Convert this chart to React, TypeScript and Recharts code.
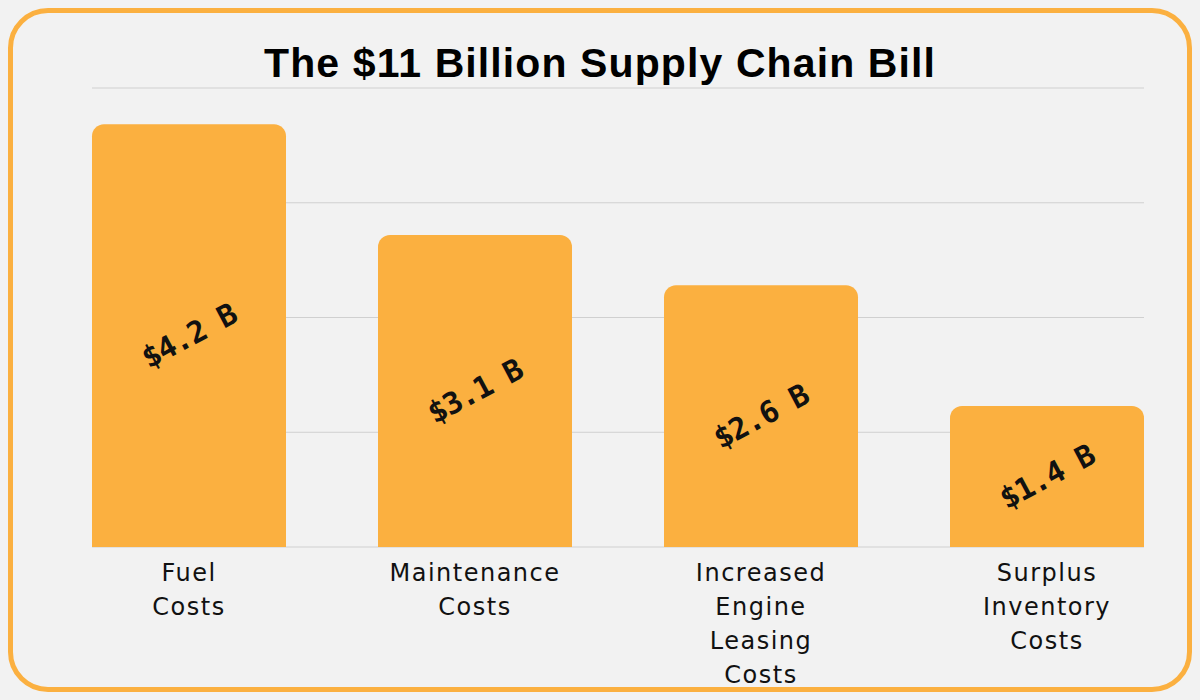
import { Bar, BarChart, CartesianGrid, LabelList, XAxis, YAxis } from "recharts";

const categories = ["Fuel Costs", "Maintenance Costs", "Increased Engine Leasing Costs", "Surplus Inventory Costs"];
const values = [4.2, 3.1, 2.6, 1.4];
const valueLabels = ["$4.2 B", "$3.1 B", "$2.6 B", "$1.4 B"];
const gridTicks = [0, 1.14, 2.28, 3.42, 4.56];

const data = categories.map((name, i) => ({ name, value: values[i], label: valueLabels[i] }));

const ORANGE = "#fbb040";

function CategoryTick(props: any) {
    const { x, y, payload } = props;
    const words: string[] = String(payload.value).split(" ");
    return (
        <text
            x={x}
            y={y}
            textAnchor="middle"
            fontFamily="DejaVu Sans"
            fontSize={24}
            letterSpacing={1.5}
            fill="#111"
        >
            {words.map((w, i) => (
                <tspan key={i} x={x} dy={i === 0 ? 26 : 34}>
                    {w}
                </tspan>
            ))}
        </text>
    );
}

function ValueLabel(props: any) {
    const { x, y, width, height, value } = props;
    const cx = x + width / 2;
    const cy = y + height / 2;
    return (
        <text
            x={cx}
            y={cy}
            textAnchor="middle"
            dominantBaseline="central"
            transform={`rotate(-28 ${cx} ${cy})`}
            fontFamily="DejaVu Sans Mono"
            fontWeight="bold"
            fontSize={30}
            letterSpacing={-1}
            fill="#111"
        >
            {value}
        </text>
    );
}

function GridLine(props: any) {
    const { x1, x2, y1, y2 } = props;
    return <line x1={x1 + 46} x2={x2 - 46} y1={y1} y2={y2} stroke="#d0d0d0" strokeWidth={1} />;
}

export default function App() {
    return (
        <div style={{ position: "absolute", left: 0, top: 0, width: 1200, height: 700, background: "#f2f2f2" }}>
            <div
                style={{
                    position: "absolute",
                    left: 8,
                    top: 8,
                    width: 1174,
                    height: 674,
                    border: `5px solid ${ORANGE}`,
                    borderRadius: 40,
                }}
            />
            <div
                style={{
                    position: "absolute",
                    left: 0,
                    top: 40,
                    width: 1200,
                    textAlign: "center",
                    fontFamily: "Liberation Sans",
                    fontWeight: "bold",
                    fontSize: 41,
                    letterSpacing: 1.1,
                    color: "#000",
                }}
            >
                The $11 Billion Supply Chain Bill
            </div>
            <div style={{ position: "absolute", left: 0, top: 0 }}>
                <BarChart
                    width={1200}
                    height={700}
                    data={data}
                    margin={{ top: 88, right: 10, bottom: 33, left: 46 }}
                    barCategoryGap={46}
                >
                    <CartesianGrid vertical={false} horizontal={GridLine} />
                    <XAxis
                        dataKey="name"
                        axisLine={false}
                        tickLine={false}
                        interval={0}
                        height={120}
                        tick={CategoryTick}
                    />
                    <YAxis hide domain={[0, 4.56]} ticks={gridTicks} />
                    <Bar dataKey="value" fill={ORANGE} radius={[12, 12, 0, 0]} isAnimationActive={false}>
                        <LabelList dataKey="label" content={ValueLabel} />
                    </Bar>
                </BarChart>
            </div>
        </div>
    );
}
